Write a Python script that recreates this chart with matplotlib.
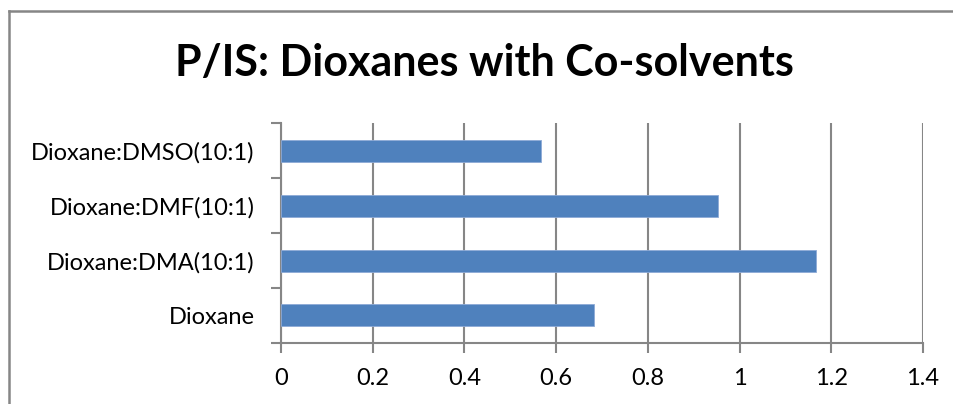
import matplotlib
matplotlib.use('Agg')
import matplotlib.pyplot as plt
from matplotlib.lines import Line2D

# Bar chart data (bottom to top)
categories = ['Dioxane', 'Dioxane:DMA(10:1)', 'Dioxane:DMF(10:1)', 'Dioxane:DMSO(10:1)']
values = [0.683, 1.167, 0.952, 0.566]
x_ticks = [0, 0.2, 0.4, 0.6, 0.8, 1.0, 1.2, 1.4]
x_tick_labels = ['0', '0.2', '0.4', '0.6', '0.8', '1', '1.2', '1.4']

BAR_COLOR = '#4F81BD'
LINE_COLOR = '#868686'

plt.rcParams['font.family'] = ['Lato', 'DejaVu Sans']

fig = plt.figure(figsize=(9.54, 4.04), dpi=100)
ax = fig.add_axes([0.2945, 0.151, 0.9675 - 0.2945, 0.6955 - 0.151])

pos = list(range(len(categories)))
ax.barh(pos, values, height=0.4, color=BAR_COLOR, edgecolor='#8DAAD6',
        linewidth=0.6, zorder=3)

ax.set_xlim(0, 1.4)
ax.set_ylim(-0.5, len(categories) - 0.5)

# x axis: major gridlines and outward ticks
ax.set_xticks(x_ticks)
ax.set_xticklabels(x_tick_labels, fontsize=17)
ax.tick_params(axis='x', direction='out', length=7, width=1.5,
               color=LINE_COLOR, pad=11)
ax.grid(axis='x', color=LINE_COLOR, linewidth=1.5, zorder=0)

# y axis: ticks between categories, labels at the centres
ax.set_yticks([p - 0.5 for p in pos] + [len(categories) - 0.5])
ax.set_yticklabels([])
ax.tick_params(axis='y', which='major', direction='out', length=7,
               width=1.5, color=LINE_COLOR)
ax.set_yticks(pos, minor=True)
ax.set_yticklabels(categories, minor=True, fontsize=17)
ax.tick_params(axis='y', which='minor', length=0, pad=19)

for side in ('top', 'right'):
    ax.spines[side].set_visible(False)
for side in ('left', 'bottom'):
    ax.spines[side].set_color(LINE_COLOR)
    ax.spines[side].set_linewidth(1.5)

fig.text(0.508, 0.845, 'P/IS: Dioxanes with Co-solvents', ha='center',
         va='center', fontsize=31, fontweight='bold')

# chart area frame (top and left edges)
fig.add_artist(Line2D([9.5 / 954, 9.5 / 954], [0, 1 - 11 / 404],
                      transform=fig.transFigure, color=LINE_COLOR, linewidth=1.8))
fig.add_artist(Line2D([9.5 / 954, 1], [1 - 11 / 404, 1 - 11 / 404],
                      transform=fig.transFigure, color=LINE_COLOR, linewidth=1.8))

fig.savefig('out.png', dpi=100, facecolor='white')
